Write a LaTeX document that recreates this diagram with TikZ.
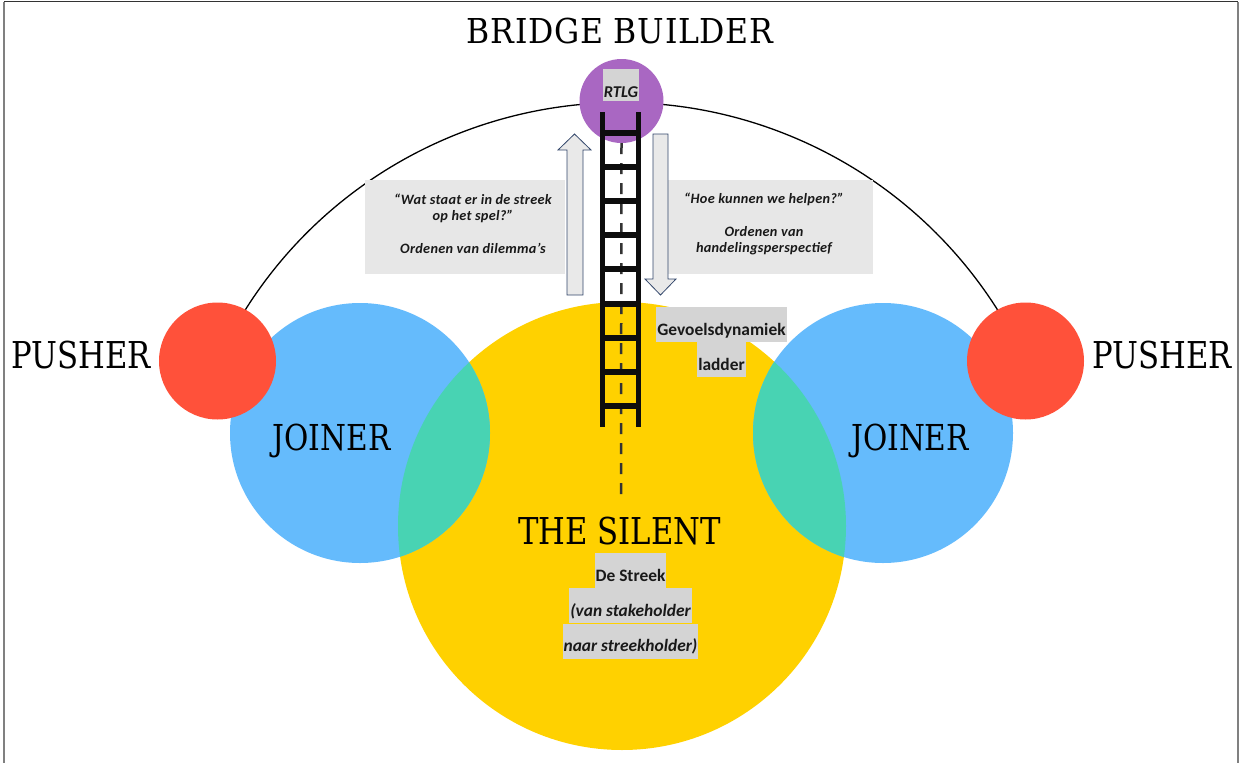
\documentclass[tikz,border=0pt]{standalone}
\usepackage{fontspec}
\newfontfamily\carlito{Carlito}
\newfontfamily\carlitosp[LetterSpace=2]{Carlito}
\newfontfamily\slab[FakeStretch=0.83]{DejaVu Serif}
\newfontfamily\slabwide[FakeStretch=0.92,LetterSpace=2]{DejaVu Serif}
\usetikzlibrary{positioning,backgrounds}
\definecolor{silentyellow}{HTML}{FFD100}
\definecolor{joinerblue}{HTML}{65BBFC}
\definecolor{overlapteal}{HTML}{48D3B3}
\definecolor{pusherred}{HTML}{FF513A}
\definecolor{bridgepurple}{HTML}{A967C2}
\definecolor{quotegray}{HTML}{E7E7E7}
\definecolor{taggray}{HTML}{D4D4D4}
\definecolor{arrowgray}{HTML}{E9E9E9}
\definecolor{arrowblue}{HTML}{33476B}
\begin{document}
\begin{tikzpicture}[
		x=1pt, y=-1pt,
		blob/.style={circle, inner sep=0pt, draw=none},
		bigname/.style={font=\slab\fontsize{#1}{#1}\selectfont, inner sep=0pt, text depth=0pt},
		quotebox/.style={fill=quotegray, minimum width=200pt, minimum height=94pt, inner sep=0pt},
		quote/.style={align=center, text=black!90, inner sep=0pt, font=\carlitosp\bfseries\itshape\fontsize{14.3}{16.5}\selectfont},
		tag/.style={fill=taggray, inner xsep=1pt, inner ysep=0pt, minimum height=35pt, text height=23pt, text depth=2pt, text=black!90, font=\carlito\bfseries\fontsize{17.4}{17.4}\selectfont},
		blockarrow/.style={fill=arrowgray, draw=arrowblue, line width=0.8pt, line join=miter},
		rail/.style={line width=5.5pt, draw=black!95},
		rung/.style={line width=6pt, draw=black!95},
		dashline/.style={line width=2.5pt, draw=black!80, dash pattern=on 11pt off 9pt}
	]
	\useasboundingbox (0,0) rectangle (1240,763);
	\draw[gray, line width=1.2pt] (4,763) -- (4,1.5);
	\draw[gray, line width=1.2pt] (1238,763) -- (1238,1.5);
	\draw[black!80, line width=1.2pt] (4,1.5) -- (1238,1.5);

	% circles
	\node[blob, fill=silentyellow, minimum size=448pt] (silent) at (622,526) {};
	\node[blob, fill=joinerblue, minimum size=260pt] (joinerL) at (360,433) {};
	\node[blob, fill=joinerblue, minimum size=260pt] (joinerR) at (883,433) {};
	\begin{scope}
		\clip (silent.center) circle[radius=224pt];
		\fill[overlapteal] (joinerL.center) circle[radius=130pt];
		\fill[overlapteal] (joinerR.center) circle[radius=130pt];
	\end{scope}
	\node[blob, fill=pusherred, minimum size=117pt] (pusherL) at (217.5,361) {};
	\node[blob, fill=pusherred, minimum size=117pt] (pusherR) at (1025.5,361) {};
	\node[blob, fill=bridgepurple, minimum size=84pt] (bridge) at (621.5,101) {};
	\begin{scope}[on background layer]
		\draw[line width=1.3pt] (pusherL.center) arc[start angle=155.2, end angle=24.8, radius=445pt];
	\end{scope}

	% vragen
	\node[quotebox] (qleft) at (465,227) {};
	\node[quotebox, minimum width=205pt] (qright) at (770.5,227) {};
	\node[quote] (qlefttxt) at (473,224) {“Wat staat er in de streek\\op het spel?”\\[16.5pt]Ordenen van dilemma’s};
	\node[quote] (qrighttxt) at (764,224) {“Hoe kunnen we helpen?”\\[16.5pt]Ordenen van\\handelingsperspectief};

	\draw[blockarrow] (567,295) -- (567,150) -- (558,150) -- (574.5,134) -- (591,150) -- (583,150) -- (583,295) -- cycle;
	\draw[blockarrow] (653,134) -- (653,279) -- (645,279) -- (660.5,295) -- (676,279) -- (668,279) -- (668,134) -- cycle;

	% ladder
	\coordinate (ladderfoot) at (621,495);
	\draw[dashline] (bridge.south) -- (ladderfoot);
	\draw[rail] (602.5,112) -- (602.5,427);
	\draw[rail] (638.5,112) -- (638.5,427);
	\foreach \k in {0,...,8}
		\draw[rung] (600,{133+34.1*\k}) -- (641,{133+34.1*\k});

	\node[tag, minimum height=32pt, text height=26pt, text depth=1pt, font=\carlito\bfseries\itshape\fontsize{16.5}{16.5}\selectfont] (rtlg) at (621,85) {RTLG};
	\node[tag] (gevoel) at (721.5,324.5) {Gevoelsdynamiek};
	\node[tag, below=0pt of gevoel] (ladder) {ladder};
	\node[tag] (streek) at (630.5,570.5) {De Streek};
	\node[tag, below=0pt of streek, font=\carlito\bfseries\itshape\fontsize{17.4}{17.4}\selectfont] (stake) {(van stakeholder};
	\node[tag, below=0pt of stake, font=\carlito\bfseries\itshape\fontsize{17.4}{17.4}\selectfont] (streekh) {naar streekholder)};

	% namen
	\node[bigname=34.3, font=\slabwide\fontsize{34.3}{34.3}\selectfont] (bbtxt) at (620,30.5) {BRIDGE BUILDER};
	\node[bigname=37] (pushLtxt) at (81,355) {PUSHER};
	\node[bigname=37] (pushRtxt) at (1162,355) {PUSHER};
	\node[bigname=35.7] (joinLtxt) at (331.5,437) {JOINER};
	\node[bigname=35.7] (joinRtxt) at (910,437) {JOINER};
	\node[bigname=37] (silenttxt) at (619.5,530.5) {THE SILENT};
\end{tikzpicture}
\end{document}
